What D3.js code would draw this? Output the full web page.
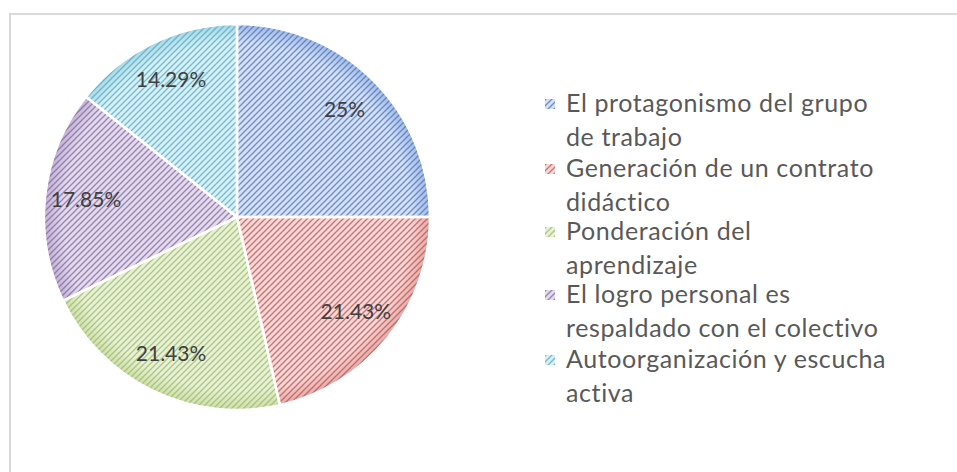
<!DOCTYPE html>
<html>
<head>
<meta charset="utf-8">
<script src="https://cdn.jsdelivr.net/npm/d3@7"></script>
<style>
  body { margin: 0; background: #fff; }
  svg { display: block; }
</style>
</head>
<body>
<div id="chart"></div>
<script>
var width = 957, height = 472;

// data
var categories = [
  ["El protagonismo del grupo", "de trabajo"],
  ["Generación de un contrato", "didáctico"],
  ["Ponderación del", "aprendizaje"],
  ["El logro personal es", "respaldado con el colectivo"],
  ["Autoorganización y escucha", "activa"]
];
var values = [25, 21.43, 21.43, 17.85, 14.29];
var labels = ["25%", "21.43%", "21.43%", "17.85%", "14.29%"];

var stripeColors = ["#4472c4", "#c0504d", "#9bbb59", "#8064a2", "#4bacc6"];
var bgColors     = ["#d6e0f2", "#f5d9d8", "#e8f0da", "#e3dbec", "#d9eff5"];

var cx = 237, cy = 217, radius = 193;

var svg = d3.select("#chart").append("svg")
    .attr("width", width)
    .attr("height", height);

var defs = svg.append("defs");

// striped pattern fill, one per slice
stripeColors.forEach(function(c, i) {
  var p = defs.append("pattern")
      .attr("id", "pat" + i)
      .attr("patternUnits", "userSpaceOnUse")
      .attr("width", 6)
      .attr("height", 6);
  p.append("rect").attr("width", 6).attr("height", 6).attr("fill", bgColors[i]);
  [[0, 6, 6, 0], [-1, 1, 1, -1], [5, 7, 7, 5]].forEach(function(l) {
    p.append("line")
      .attr("x1", l[0]).attr("y1", l[1]).attr("x2", l[2]).attr("y2", l[3])
      .attr("stroke", c)
      .attr("stroke-width", 1.3)
      .attr("stroke-opacity", 0.75);
  });

  // soft darker edge
  var g = defs.append("radialGradient")
      .attr("id", "edge" + i)
      .attr("gradientUnits", "userSpaceOnUse")
      .attr("cx", 0).attr("cy", 0).attr("r", radius);
  g.append("stop").attr("offset", "0.9").attr("stop-color", c).attr("stop-opacity", 0);
  g.append("stop").attr("offset", "1").attr("stop-color", c).attr("stop-opacity", 0.35);
});

// chart frame
svg.append("path")
    .attr("d", "M10,472 V14 H957")
    .attr("fill", "none")
    .attr("stroke", "#d9d9d9")
    .attr("stroke-width", 2);

var pie = d3.pie().sort(null).value(function(d) { return d; });
var arcs = pie(values);

var arc = d3.arc().innerRadius(0).outerRadius(radius);
var labelArc = d3.arc().innerRadius(152).outerRadius(152);

var g = svg.append("g").attr("transform", "translate(" + cx + "," + cy + ")");

g.selectAll(".slice")
  .data(arcs)
  .enter()
  .append("path")
  .attr("class", "slice")
  .attr("d", arc)
  .attr("fill", function(d, i) { return "url(#pat" + i + ")"; });

g.selectAll(".edge")
  .data(arcs)
  .enter()
  .append("path")
  .attr("class", "edge")
  .attr("d", arc)
  .attr("fill", function(d, i) { return "url(#edge" + i + ")"; })
  .attr("stroke", "#fff")
  .attr("stroke-width", 2.5);

g.selectAll(".lbl")
  .data(arcs)
  .enter()
  .append("text")
  .attr("class", "lbl")
  .attr("transform", function(d) { return "translate(" + labelArc.centroid(d) + ")"; })
  .attr("text-anchor", "middle")
  .attr("dy", "0.35em")
  .attr("font-family", "Lato, sans-serif")
  .attr("font-size", 21)
  .attr("fill", "#404040")
  .text(function(d, i) { return labels[i]; });

// legend
var legend = svg.append("g").attr("transform", "translate(545,0)");
var itemY = [112, 177, 240, 303, 368];

categories.forEach(function(lines, i) {
  var item = legend.append("g").attr("transform", "translate(0," + itemY[i] + ")");
  item.append("rect")
    .attr("x", 0).attr("y", -13)
    .attr("width", 10).attr("height", 10)
    .attr("fill", "url(#pat" + i + ")");
  item.append("text")
    .attr("font-family", "Lato, sans-serif")
    .attr("font-size", 25)
    .attr("letter-spacing", 0.6)
    .attr("fill", "#595959")
    .selectAll("tspan")
    .data(lines)
    .enter()
    .append("tspan")
    .attr("x", 21)
    .attr("y", function(d, j) { return j * 34; })
    .text(function(d) { return d; });
});
</script>
</body>
</html>
